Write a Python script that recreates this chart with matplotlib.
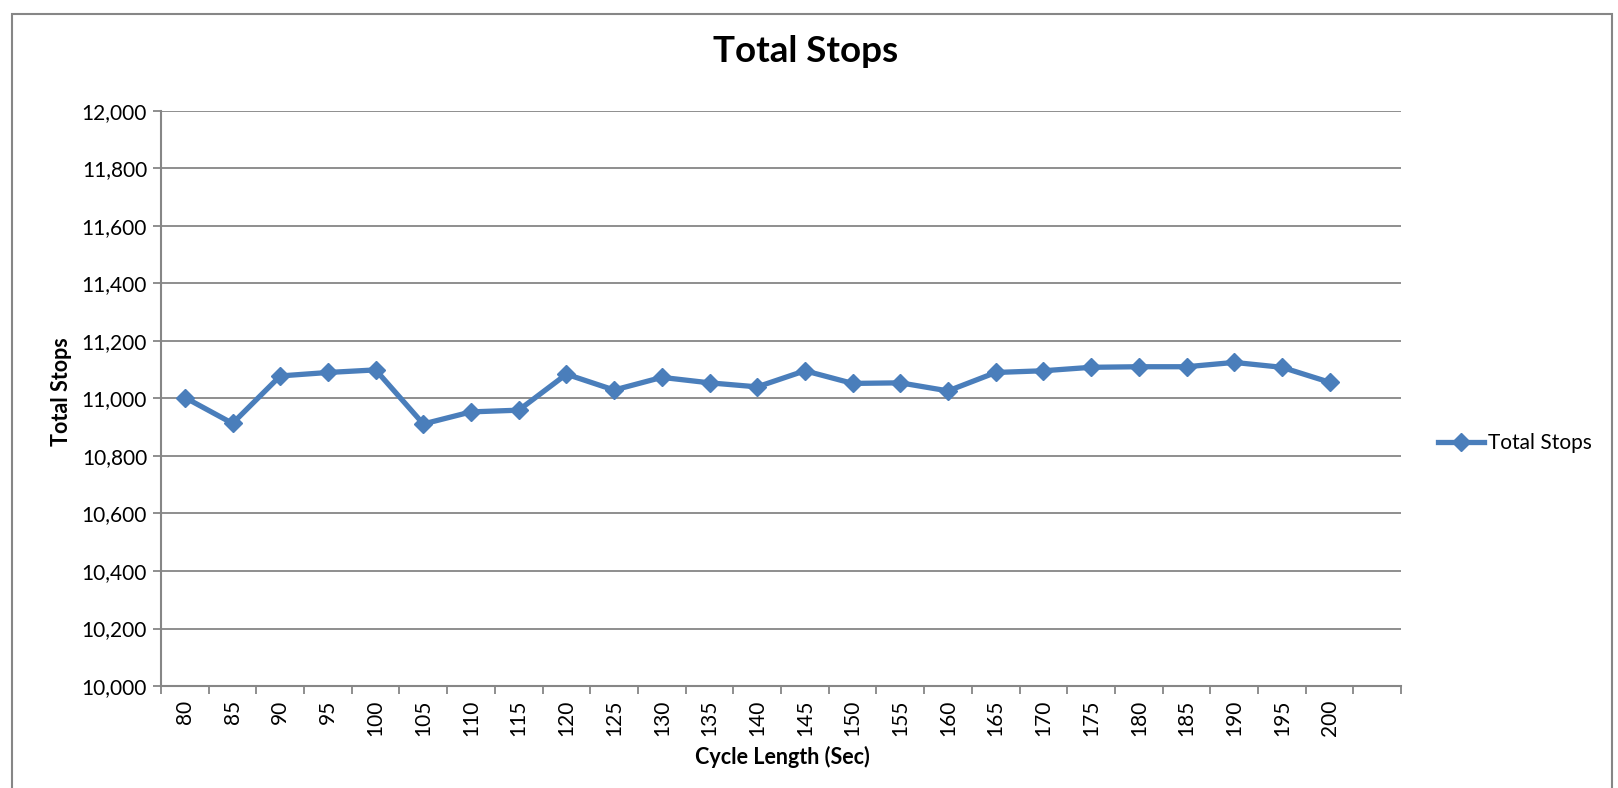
import matplotlib
matplotlib.use("Agg")
import matplotlib.pyplot as plt
from matplotlib.patches import Rectangle
from matplotlib.ticker import FuncFormatter, MultipleLocator

# data
cycle_lengths = [80, 85, 90, 95, 100, 105, 110, 115, 120, 125, 130, 135, 140,
                 145, 150, 155, 160, 165, 170, 175, 180, 185, 190, 195, 200]
total_stops = [11003, 10913, 11078, 11090, 11099, 10911, 10953, 10959, 11084,
               11029, 11073, 11054, 11040, 11096, 11052, 11054, 11026, 11090,
               11096, 11108, 11110, 11110, 11125, 11108, 11056]
series_name = "Total Stops"

plt.rcParams['font.family'] = ['Lato', 'DejaVu Sans']
GRAY = "#868686"
BLUE = "#4A7EBB"

fig = plt.figure(figsize=(16.18, 7.88), dpi=100)
ax = fig.add_axes([0.0995, 0.1294, 0.7665, 0.7301])

# chart border (bottom edge is cut off in the reference)
fig.patches.append(Rectangle((12 / 1618, -0.05), 1600 / 1618, 1 - 14 / 788 + 0.05,
                             transform=fig.transFigure, fill=False,
                             edgecolor=GRAY, linewidth=1.5))

x = list(range(len(cycle_lengths)))
line, = ax.plot(x, total_stops, color=BLUE, linewidth=3.8, marker='D',
                markersize=9.5, label=series_name, zorder=3)

ax.set_ylim(10000, 12000)
ax.set_xlim(-0.5, len(cycle_lengths) + 0.5)
ax.yaxis.set_major_locator(MultipleLocator(200))
ax.yaxis.set_major_formatter(FuncFormatter(lambda v, p: f"{int(v):,}"))
ax.grid(axis='y', color=GRAY, linewidth=1.3)
ax.set_axisbelow(True)

ax.set_xticks(x)
ax.set_xticklabels([str(c) for c in cycle_lengths], rotation=90)
ax.set_xticks([i - 0.5 for i in range(len(cycle_lengths) + 2)], minor=True)
ax.tick_params(axis='x', which='major', length=0, labelsize=15, pad=10)
ax.tick_params(axis='x', which='minor', length=6, color=GRAY, width=1.3)
ax.tick_params(axis='y', length=6, color=GRAY, width=1.3, labelsize=15, pad=4)

for s in ('top', 'right'):
    ax.spines[s].set_visible(False)
for s in ('left', 'bottom'):
    ax.spines[s].set_color(GRAY)
    ax.spines[s].set_linewidth(1.5)

# axis titles placed where the reference has them
fig.text(782 / 1618, 1 - 757 / 788, "Cycle Length (Sec)", ha='center', va='center',
         fontsize=15.5, fontweight='bold')
fig.text(61 / 1618, 1 - 392 / 788, "Total Stops", ha='center', va='center',
         rotation=90, fontsize=15.5, fontweight='bold')
fig.text(806 / 1618, 1 - 52 / 788, "Total Stops", ha='center', va='center',
         fontsize=26.5, fontweight='bold')

fig.legend(handles=[line], loc='center left', bbox_to_anchor=(0.877, 0.438),
           frameon=False, fontsize=15, handlelength=2.2, handletextpad=0.2)

fig.savefig("out.png", dpi=100)
